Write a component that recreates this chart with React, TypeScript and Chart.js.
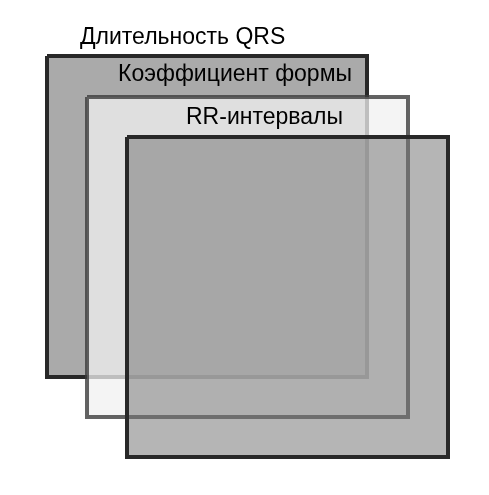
import React, { useEffect, useRef } from "react";
import { Chart, registerables } from "chart.js";
Chart.register(...registerables);

// Squares: [left, top, right, bottom] in page units
const names = ["Длительность QRS", "Коэффициент формы", "RR-интервалы"];
const lefts = [47, 87, 127];
const tops = [56, 97, 137];
const rights = [367, 408, 448];
const bottoms = [377, 417, 457];
const fills = ["rgba(170,170,170,1)", "rgba(240,240,240,0.75)", "rgba(120,120,120,0.55)"];
const borders = ["rgba(40,40,40,1)", "rgba(60,60,60,0.8)", "rgba(40,40,40,1)"];
// Label anchors
const labelX = [80, 352, 343];
const labelY = [38, 75, 118];
const labelAlign = ["left", "right", "right"];

export default function App() {
  const ref = useRef<HTMLCanvasElement>(null);
  useEffect(() => {
    const datasets = names.map((n, i) => ({
      label: n,
      order: names.length - i,
      data: [
        { x: lefts[i], y: tops[i] },
        { x: rights[i], y: tops[i] },
        { x: rights[i], y: bottoms[i] },
        { x: lefts[i], y: bottoms[i] },
        { x: lefts[i], y: tops[i] },
      ],
      showLine: true,
      fill: "shape" as any,
      backgroundColor: fills[i],
      borderColor: borders[i],
      borderWidth: 4,
      pointRadius: 0,
      tension: 0,
      borderJoinStyle: "miter" as any,
    }));
    const labels = {
      id: "labels",
      afterDatasetsDraw(chart: any) {
        const { ctx, scales } = chart;
        ctx.save();
        ctx.fillStyle = "#000";
        ctx.font = "23px 'Liberation Sans', Arial, sans-serif";
        ctx.textBaseline = "middle";
        names.forEach((n, i) => {
          ctx.textAlign = labelAlign[i];
          ctx.fillText(n, scales.x.getPixelForValue(labelX[i]), scales.y.getPixelForValue(labelY[i]));
        });
        ctx.restore();
      },
    };
    const chart = new Chart(ref.current!, {
      type: "scatter",
      data: { datasets },
      options: {
        animation: false,
        responsive: false,
        layout: { padding: 0 },
        plugins: { legend: { display: false }, tooltip: { enabled: false } },
        scales: {
          x: { type: "linear", min: 0, max: 489, display: false },
          y: { type: "linear", min: 0, max: 495, reverse: true, display: false },
        },
      },
      plugins: [labels],
    });
    return () => chart.destroy();
  }, []);
  return (
    <div style={{ position: "absolute", left: 0, top: 0, background: "#fff" }}>
      <canvas ref={ref} width={489} height={495} />
    </div>
  );
}
